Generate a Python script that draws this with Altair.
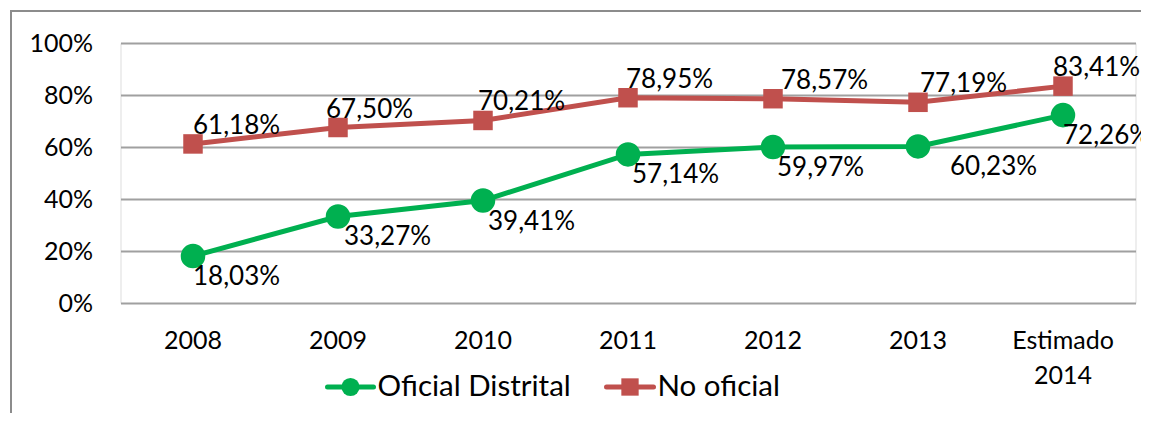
import altair as alt
import pandas as pd

years = ["2008", "2009", "2010", "2011", "2012", "2013", "Estimado 2014"]
oficial = [18.03, 33.27, 39.41, 57.14, 59.97, 60.23, 72.26]
no_oficial = [61.18, 67.50, 70.21, 78.95, 78.57, 77.19, 83.41]
series = ["Oficial Distrital", "No oficial"]
colors = ["#00B050", "#C0504D"]

# horizontal label nudges (px) as placed in the original
oficial_dx = [0, 6, 5, 4, 4, 32, 0]
no_oficial_dx = [0, -12, -5, -2, 8, 2, -10]

rows = []
for y, v, dx in zip(years, oficial, oficial_dx):
    rows.append({"year": y, "value": v / 100, "series": series[0], "dx": dx})
for y, v, dx in zip(years, no_oficial, no_oficial_dx):
    rows.append({"year": y, "value": v / 100, "series": series[1], "dx": dx})
df = pd.DataFrame(rows)

FONT = "Lato"

x_enc = alt.X("year:N", sort=years, scale=alt.Scale(paddingOuter=0.5, paddingInner=1),
              axis=alt.Axis(title=None, domain=False, ticks=False, grid=False,
                            labelAngle=0, labelFontSize=25, labelPadding=25,
                            labelColor="#000", labelFont=FONT, labelLineHeight=35,
                            labelExpr="datum.label == 'Estimado 2014' ? ['Estimado', '2014'] : datum.label"))
y_enc = alt.Y("value:Q", scale=alt.Scale(domain=[0, 1]),
              axis=alt.Axis(title=None, format=".0%", values=[0, 0.2, 0.4, 0.6, 0.8, 1.0],
                            domain=False, ticks=False, labelFontSize=25, labelPadding=28,
                            labelColor="#000", labelFont=FONT,
                            gridColor="#a0a0a0", gridWidth=2))

base = alt.Chart(df).transform_calculate(
    label="replace(format(datum.value, '.2%'), '.', ',')"
)

green = base.transform_filter(alt.datum.series == series[0])
red = base.transform_filter(alt.datum.series == series[1])

xo = alt.XOffset("dx:Q", scale=None)

green_line = green.mark_line(color=colors[0], strokeWidth=5).encode(x=x_enc, y=y_enc)
green_pts = green.mark_point(shape="circle", filled=True, opacity=1, color=colors[0], size=600).encode(x=x_enc, y=y_enc)
green_txt = green.mark_text(align="left", baseline="middle", dy=21, fontSize=26, font=FONT, color="#000").encode(
    x=x_enc, y=y_enc, xOffset=xo, text="label:N")

red_line = red.mark_line(color=colors[1], strokeWidth=5).encode(x=x_enc, y=y_enc)
red_pts = red.mark_point(shape="square", filled=True, opacity=1, color=colors[1], size=380).encode(x=x_enc, y=y_enc)
red_txt = red.mark_text(align="left", baseline="middle", dy=-18, fontSize=26, font=FONT, color="#000").encode(
    x=x_enc, y=y_enc, xOffset=xo, text="label:N")

# frame (left and top edges)
frame_left = alt.Chart(df).mark_rule(color="#8c8c8c", strokeWidth=2, clip=False).encode(
    x=alt.value(-109.5), y=alt.value(-32), y2=alt.value(400))
frame_top = alt.Chart(df).mark_rule(color="#8c8c8c", strokeWidth=2, clip=False).encode(
    x=alt.value(-110.5), x2=alt.value(1060), y=alt.value(-32))

# custom legend
leg_y = 344
leg1 = pd.DataFrame({"name": [series[0]]})
leg2 = pd.DataFrame({"name": [series[1]]})
lg_line1 = alt.Chart(leg1).mark_rule(color=colors[0], strokeWidth=5, strokeCap="round").encode(
    x=alt.value(207), x2=alt.value(253), y=alt.value(leg_y))
lg_pt1 = alt.Chart(leg1).mark_point(shape="circle", filled=True, opacity=1, color=colors[0], size=330).encode(
    x=alt.value(230), y=alt.value(leg_y))
lg_txt1 = alt.Chart(leg1).mark_text(align="left", baseline="middle", fontSize=29.5, font=FONT, color="#000").encode(
    x=alt.value(257), y=alt.value(leg_y), text="name:N")
lg_line2 = alt.Chart(leg2).mark_rule(color=colors[1], strokeWidth=5, strokeCap="round").encode(
    x=alt.value(486), x2=alt.value(533), y=alt.value(leg_y))
lg_pt2 = alt.Chart(leg2).mark_point(shape="square", filled=True, opacity=1, color=colors[1], size=300).encode(
    x=alt.value(509.5), y=alt.value(leg_y))
lg_txt2 = alt.Chart(leg2).mark_text(align="left", baseline="middle", fontSize=29.5, font=FONT, color="#000").encode(
    x=alt.value(537), y=alt.value(leg_y), text="name:N")

chart = alt.layer(
    frame_left, frame_top,
    red_line, green_line, red_pts, green_pts, red_txt, green_txt,
    lg_line1, lg_pt1, lg_txt1, lg_line2, lg_pt2, lg_txt2,
).properties(
    width=1015, height=260,
    autosize=alt.AutoSizeParams(type="none"),
    padding={"left": 112.5, "top": 35, "right": 5, "bottom": 110},
).configure_view(stroke=None).configure(background="white")

chart.save("out.html", embed_options={"renderer": "svg", "actions": False})
